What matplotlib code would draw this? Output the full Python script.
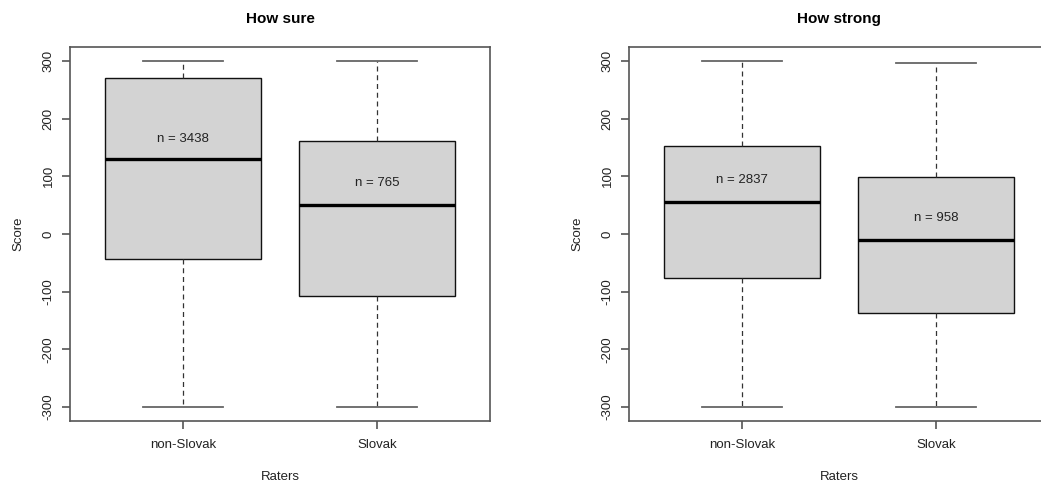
import matplotlib.pyplot as plt

plt.rcParams['font.family'] = ['Liberation Sans', 'DejaVu Sans']

groups = ['non-Slovak', 'Slovak']
titles = ['How sure', 'How strong']

# per panel: whisker low, q1, median, q3, whisker high
sure_lo = [-300, -300]
sure_q1 = [-43, -107]
sure_med = [130, 50]
sure_q3 = [270, 161]
sure_hi = [300, 300]
sure_n = [3438, 765]
sure_label_y = [165, 88]

strong_lo = [-300, -300]
strong_q1 = [-76, -137]
strong_med = [56, -11]
strong_q3 = [152, 99]
strong_hi = [300, 297]
strong_n = [2837, 958]
strong_label_y = [94, 28]

panels = [
    (sure_lo, sure_q1, sure_med, sure_q3, sure_hi, sure_n, sure_label_y),
    (strong_lo, strong_q1, strong_med, strong_q3, strong_hi, strong_n, strong_label_y),
]

fig = plt.figure(figsize=(10.41, 4.86), dpi=100)
W, H = 1041, 486
lefts = [70, 629]
axw = 420
top, bottom = 47, 421

axcol = '#555555'

for i, (lo, q1, med, q3, hi, ns, ly) in enumerate(panels):
    ax = fig.add_axes([lefts[i] / W, (H - bottom) / H, axw / W, (bottom - top) / H])
    stats = []
    for j in range(len(groups)):
        stats.append({'whislo': lo[j], 'q1': q1[j], 'med': med[j], 'q3': q3[j],
                      'whishi': hi[j], 'label': groups[j], 'fliers': []})
    ax.bxp(stats, positions=[1, 2], widths=0.8, patch_artist=True,
           showfliers=False, capwidths=0.41,
           boxprops=dict(facecolor='#d3d3d3', edgecolor='#111111', linewidth=1.0),
           medianprops=dict(color='black', linewidth=2.4, solid_capstyle='butt'),
           whiskerprops=dict(color='#333333', linewidth=0.9, linestyle=(0, (4, 3))),
           capprops=dict(color='#666666', linewidth=1.3))
    for j in range(len(groups)):
        ax.text(j + 1, ly[j], 'n = %d' % ns[j], ha='center', va='center',
                fontsize=9.5, color='#222222')
    ax.set_xlim(0.42, 2.58)
    ax.set_ylim(-324, 324)
    ax.set_yticks([-300, -200, -100, 0, 100, 200, 300])
    ax.set_yticklabels(['-300', '-200', '-100', '0', '100', '200', '300'],
                       rotation=90, va='center')
    ax.set_xticks([1, 2])
    ax.set_xticklabels(groups)
    ax.tick_params(axis='both', length=6, width=1.2, color=axcol,
                   labelsize=9.5, labelcolor='#222222')
    ax.tick_params(axis='x', pad=7)
    ax.tick_params(axis='y', pad=5)
    for s in ax.spines.values():
        s.set_color(axcol)
        s.set_linewidth(1.2)
    ax.set_xlabel('Raters', fontsize=9.5, color='#222222', labelpad=14)
    ax.set_ylabel('Score', fontsize=9.5, color='#222222', labelpad=13)
    ax.set_title(titles[i], fontsize=11, fontweight='bold', pad=17)

fig.savefig('out.png', dpi=100)
